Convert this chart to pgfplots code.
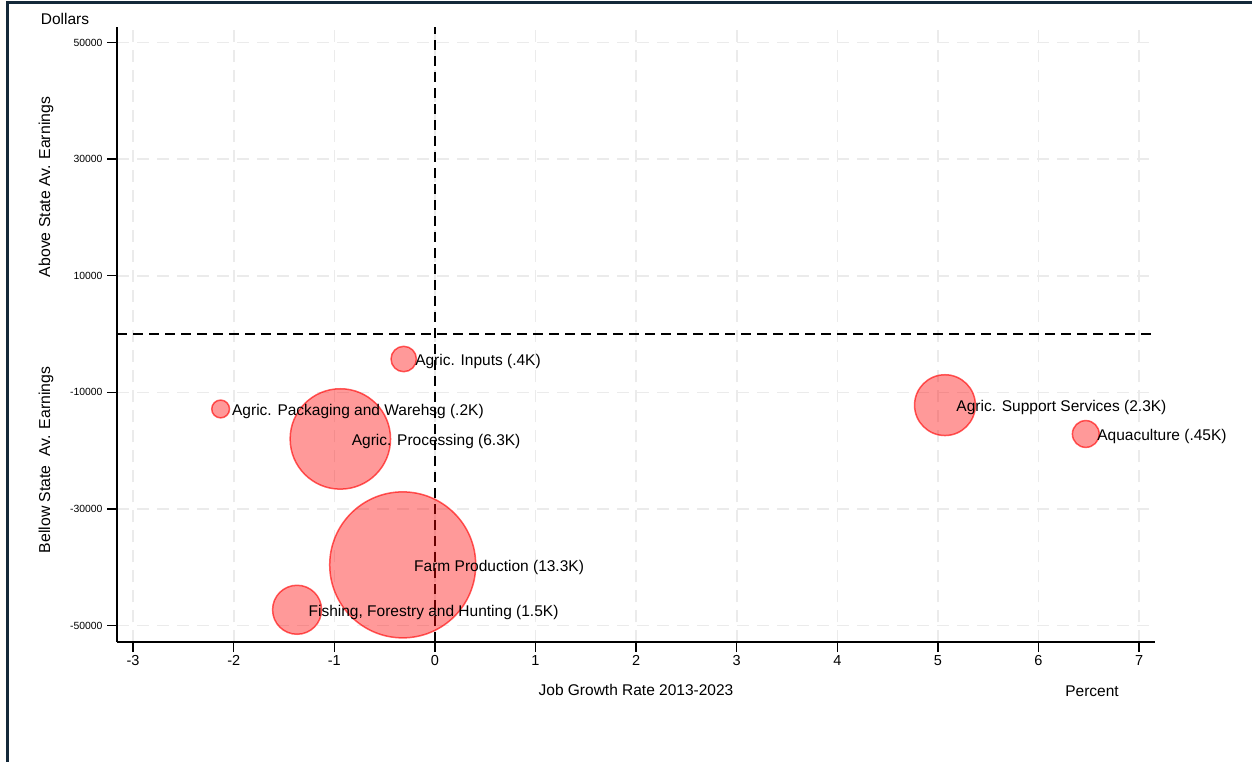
\documentclass[border=0pt]{standalone}
\usepackage{fontspec}
\setmainfont{Liberation Sans}
\usepackage{pgfplots}
\usepackage{pgfplotstable}
\pgfplotsset{compat=1.18}
\definecolor{framec}{HTML}{14293A}
\definecolor{gridc}{HTML}{EBEBEB}

% growth rate (%), earnings gap ($), bubble radius (pt)
\pgfplotstableread{
x y r label
-0.31 -4290 12.7 {Agric. Inputs (.4K)}
-2.13 -12860 8.9 {Agric. Packaging and Warehsg (.2K)}
-0.94 -18000 50.2 {Agric. Processing (6.3K)}
-0.32 -39600 73 {Farm Production (13.3K)}
-1.37 -47300 24.5 {Fishing, Forestry and Hunting (1.5K)}
5.07 -12200 30.4 {Agric. Support Services (2.3K)}
6.47 -17150 13.4 {Aquaculture (.45K)}
}\bubbles

\begin{document}
\begin{tikzpicture}[x=1pt,y=1pt]
\useasboundingbox (0,0) rectangle (1252,761);
\fill[white] (0,0) rectangle (1252,761);
\draw[framec, line width=3pt] (7,-20) -- (7,758.5) -- (1280,758.5);

\begin{axis}[
    at={(117pt,119pt)}, anchor=south west,
    width=1038pt, height=615pt, scale only axis,
    xmin=-3.16, xmax=7.158,
    ymin=-52830, ymax=52660,
    axis x line*=bottom, axis y line*=left,
    axis line style={line width=1.3pt, black},
    xtick={-3,-2,...,7},
    ytick={-50000,-30000,-10000,10000,30000,50000},
    tick align=outside, major tick length=10pt,
    tick style={line width=1.3pt, black},
    scaled y ticks=false,
    /pgf/number format/assume math mode=true,
    yticklabel style={/pgf/number format/fixed, /pgf/number format/1000 sep={},
        font=\fontsize{10.4}{12}\selectfont, xshift=-1pt},
    xticklabel style={font=\fontsize{14.5}{16}\selectfont},
    grid=major,
    major grid style={gridc, line width=1.6pt, dash pattern=on 12pt off 8pt},
    clip=false,
]
\draw[black, line width=1.8pt, dash pattern=on 10pt off 6pt]
    (axis cs:0,-52830) -- (axis cs:0,52660);
\draw[black, line width=1.8pt, dash pattern=on 10pt off 6pt]
    (axis cs:-3.16,0) -- (axis cs:7.158,0);

\addplot[scatter, only marks, mark=*,
    visualization depends on={\thisrow{r} \as \rad},
    scatter/@pre marker code/.code={\scope[mark size=\rad pt, draw=red, draw opacity=0.62,
        fill=red, fill opacity=0.4, line width=1.5pt]},
    scatter/@post marker code/.code={\endscope}]
    table[x=x, y=y] {\bubbles};

\addplot[draw=none, mark=none,
    nodes near coords, point meta=explicit symbolic,
    nodes near coords style={anchor=west, xshift=8pt, yshift=-2.5pt, black,
        font=\fontsize{15.5}{18}\selectfont}]
    table[x=x, y=y, meta=label] {\bubbles};
\end{axis}

\node[font=\fontsize{15.5}{18}\selectfont] at (636,71) {Job Growth Rate 2013-2023};
\node[font=\fontsize{15.5}{18}\selectfont] at (1092,70) {Percent};
\node[font=\fontsize{15.5}{18}\selectfont] at (65,742) {Dollars};
\node[font=\fontsize{15.8}{18}\selectfont, rotate=90] at (46,574) {Above State Av. Earnings};
\node[font=\fontsize{15.8}{18}\selectfont, rotate=90] at (46,301) {Bellow State\ \ Av. Earnings};
\end{tikzpicture}
\end{document}
